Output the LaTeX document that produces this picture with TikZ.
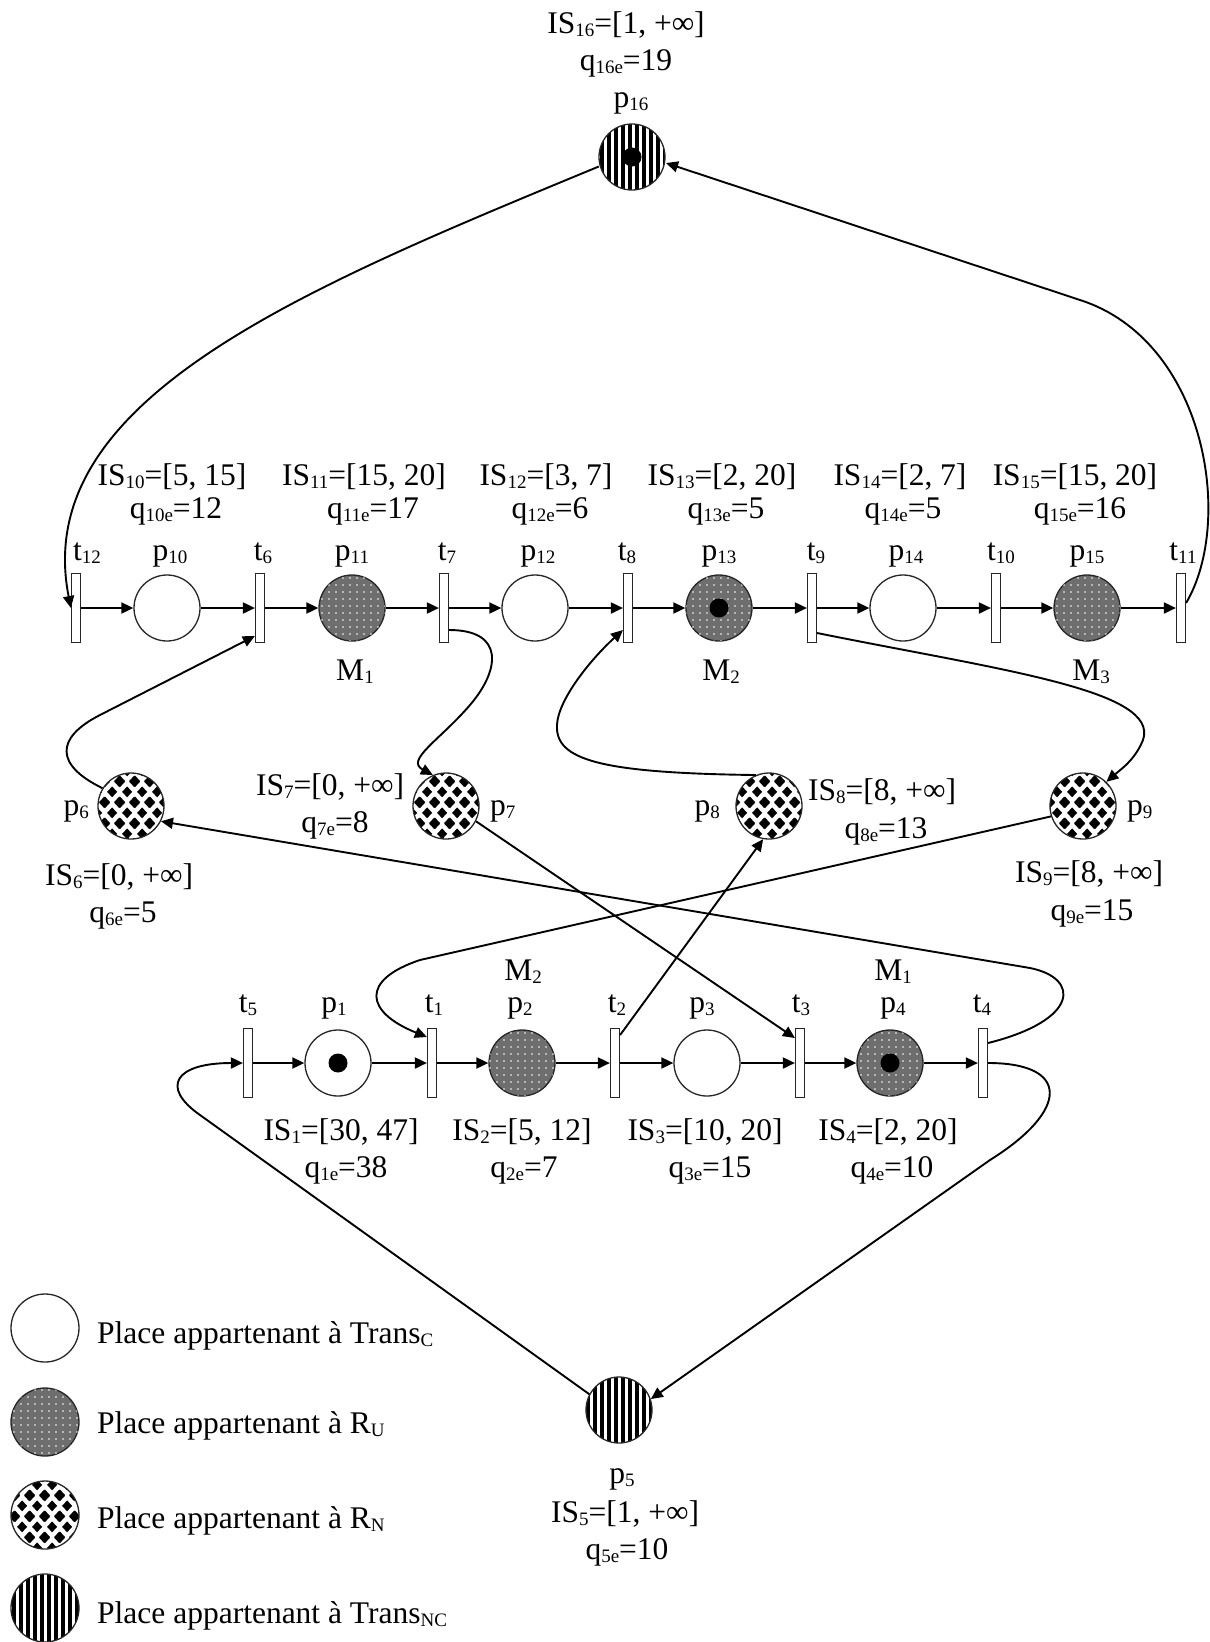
\documentclass[tikz,border=0pt]{standalone}
\usepackage{fontspec}
\setmainfont{Liberation Serif}
\usetikzlibrary{calc,arrows.meta,patterns,patterns.meta}

\newcommand{\sbs}[1]{\raisebox{-3pt}{\fontsize{19}{19}\selectfont #1}}
\newcommand{\dmd}[2]{%
  \pgfpathmoveto{\pgfpoint{#1-5.3pt}{#2}}%
  \pgfpathlineto{\pgfpoint{#1}{#2+5.6pt}}%
  \pgfpathlineto{\pgfpoint{#1+5.3pt}{#2}}%
  \pgfpathlineto{\pgfpoint{#1}{#2-5.6pt}}%
  \pgfpathclose}
\pgfdeclarepatternformonly{diamonds}{\pgfqpoint{0pt}{0pt}}{\pgfqpoint{15pt}{21pt}}{\pgfqpoint{15pt}{21pt}}{%
  \dmd{7.5pt}{10.5pt}\dmd{0pt}{0pt}\dmd{15pt}{0pt}\dmd{0pt}{21pt}\dmd{15pt}{21pt}%
  \pgfusepath{fill}}

\tikzset{
  lbl/.style={inner sep=0pt, font=\fontsize{31.5}{36}\selectfont},
  place/.style={circle, draw=black!85, line width=1.3pt, minimum size=66pt, inner sep=0pt},
  trc/.style={place, fill=white},
  ru/.style={place, fill=black!57, postaction={pattern={Dots[distance=7pt, radius=0.9pt]}, pattern color=white}},
  rn/.style={place, pattern=diamonds},
  tnc/.style={place, pattern={Lines[angle=90, distance=7pt, line width=3.2pt]}},
  trans/.style={rectangle, draw=black!85, fill=white, line width=1.2pt, minimum width=9pt, minimum height=69pt, inner sep=0pt},
  flow/.style={-{Triangle[length=12pt, width=11pt]}, line width=1.9pt},
  token/.style={circle, fill, minimum size=19pt, inner sep=0pt}
}

\begin{document}
\begin{tikzpicture}[x=1pt, y=-1pt]
	\useasboundingbox (0,0) rectangle (1210,1642);

	% upper row
	\node[trans] (t12) at (76,608) {};
	\node[trc] (p10) at (167,608) {};
	\node[trans] (t6) at (260,608) {};
	\node[ru] (p11) at (352,608) {};
	\node[trans] (t7) at (444,608) {};
	\node[trc] (p12) at (535,608) {};
	\node[trans] (t8) at (628,608) {};
	\node[ru] (p13) at (719,608) {};
	\node[trans] (t9) at (812,608) {};
	\node[trc] (p14) at (903,608) {};
	\node[trans] (t10) at (996,608) {};
	\node[ru] (p15) at (1087,608) {};
	\node[trans] (t11) at (1181,608) {};

	% middle places
	\node[rn] (p6) at (131,806) {};
	\node[rn] (p7) at (446,806) {};
	\node[rn] (p8) at (769,806) {};
	\node[rn] (p9) at (1083,806) {};

	% lower row
	\node[trans] (t5) at (248,1063) {};
	\node[trc] (p1) at (338,1063) {};
	\node[trans] (t1) at (432,1063) {};
	\node[ru] (p2) at (522,1063) {};
	\node[trans] (t2) at (615,1063) {};
	\node[trc] (p3) at (707,1063) {};
	\node[trans] (t3) at (800,1063) {};
	\node[ru] (p4) at (890,1063) {};
	\node[trans] (t4) at (983,1063) {};

	\node[tnc] (p16) at (632,157) {};
	\node[tnc] (p5) at (619,1410) {};

	% tokens
	\node[token] (k16) at (p16) {};
	\node[token] (k13) at (p13) {};
	\node[token] (k1) at (p1) {};
	\node[token] (k4) at (p4) {};

	% straight arcs
	\draw[flow] (t12) -- (p10);
	\draw[flow] (p10) -- (t6);
	\draw[flow] (t6) -- (p11);
	\draw[flow] (p11) -- (t7);
	\draw[flow] (t7) -- (p12);
	\draw[flow] (p12) -- (t8);
	\draw[flow] (t8) -- (p13);
	\draw[flow] (p13) -- (t9);
	\draw[flow] (t9) -- (p14);
	\draw[flow] (p14) -- (t10);
	\draw[flow] (t10) -- (p15);
	\draw[flow] (p15) -- (t11);
	\draw[flow] (t5) -- (p1);
	\draw[flow] (p1) -- (t1);
	\draw[flow] (t1) -- (p2);
	\draw[flow] (p2) -- (t2);
	\draw[flow] (t2) -- (p3);
	\draw[flow] (p3) -- (t3);
	\draw[flow] (t3) -- (p4);
	\draw[flow] (p4) -- (t4);

	% curved arcs
	\draw[flow] (p16.196) .. controls (300,290) and (30,400) .. (t12.west);
	\draw[flow] ($(t11.east)+(0,-5)$) .. controls (1235,520) and (1205,340) .. (1080,300) -- (p16.350);
	\draw[flow] ($(t7.east)+(0,22)$) .. controls (505,630) and (500,670) .. (470,705)
		.. controls (440,740) and (405,760) .. (p7.113);
	\draw[flow] (p8.113) .. controls (600,773) and (555,760) .. (557,725)
		.. controls (558,700) and (590,660) .. ($(t8.west)+(0,22)$);
	\draw[flow] ($(t9.east)+(0,25)$) .. controls (1000,670) and (1160,690) .. (1143,740)
		.. controls (1135,760) and (1120,770) .. (p9.46);
	\draw[flow] (p6.148) .. controls (55,765) and (55,738) .. (100,715) -- ($(t6.west)+(0,28)$);
	\draw[flow] (p7.333) -- ($(t3.west)+(0,-25)$);
	\draw[flow] ($(t2.east)+(0,-28)$) -- (p8.260);
	\draw[flow] (p9.198) -- (420,960) .. controls (360,980) and (365,1012) .. ($(t1.west)+(0,-26)$);
	\draw[flow] ($(t4.east)+(0,-20)$) .. controls (1080,1020) and (1080,978) .. (1030,968) -- (p6.333);
	\draw[flow] (t4.east) .. controls (1070,1063) and (1070,1110) .. (990,1160) -- (p5.19);
	\draw[flow] (p5.152) -- (200,1115) .. controls (160,1087) and (175,1063) .. (t5.west);

	% labels of p16
	\node[lbl, anchor=base] (is16) at (626,33) {IS\sbs{16}=[1, +∞]};
	\node[lbl, anchor=base] (q16) at (626,70) {q\sbs{16e}=19};
	\node[lbl, anchor=base] (n16) at (631,107) {p\sbs{16}};

	% labels of the upper row
	\node[lbl, anchor=base] (is10) at (172,485) {IS\sbs{10}=[5, 15]};
	\node[lbl, anchor=base] (q10) at (176,518) {q\sbs{10e}=12};
	\node[lbl, anchor=base] (is11) at (364,485) {IS\sbs{11}=[15, 20]};
	\node[lbl, anchor=base] (q11) at (373,518) {q\sbs{11e}=17};
	\node[lbl, anchor=base] (is12) at (546,485) {IS\sbs{12}=[3, 7]};
	\node[lbl, anchor=base] (q12) at (550,518) {q\sbs{12e}=6};
	\node[lbl, anchor=base] (is13) at (722,485) {IS\sbs{13}=[2, 20]};
	\node[lbl, anchor=base] (q13) at (726,518) {q\sbs{13e}=5};
	\node[lbl, anchor=base] (is14) at (900,485) {IS\sbs{14}=[2, 7]};
	\node[lbl, anchor=base] (q14) at (903,518) {q\sbs{14e}=5};
	\node[lbl, anchor=base] (is15) at (1075,485) {IS\sbs{15}=[15, 20]};
	\node[lbl, anchor=base] (q15) at (1080,518) {q\sbs{15e}=16};

	\node[lbl, anchor=base] (nt12) at (87,560) {t\sbs{12}};
	\node[lbl, anchor=base] (n10) at (170,560) {p\sbs{10}};
	\node[lbl, anchor=base] (nt6) at (263,560) {t\sbs{6}};
	\node[lbl, anchor=base] (n11) at (352,560) {p\sbs{11}};
	\node[lbl, anchor=base] (nt7) at (447,560) {t\sbs{7}};
	\node[lbl, anchor=base] (n12) at (538,560) {p\sbs{12}};
	\node[lbl, anchor=base] (nt8) at (627,560) {t\sbs{8}};
	\node[lbl, anchor=base] (n13) at (719,560) {p\sbs{13}};
	\node[lbl, anchor=base] (nt9) at (816,560) {t\sbs{9}};
	\node[lbl, anchor=base] (n14) at (906,560) {p\sbs{14}};
	\node[lbl, anchor=base] (nt10) at (1001,560) {t\sbs{10}};
	\node[lbl, anchor=base] (n15) at (1087,560) {p\sbs{15}};
	\node[lbl, anchor=base] (nt11) at (1183,560) {t\sbs{11}};

	\node[lbl, anchor=base] (m1a) at (355,680) {M\sbs{1}};
	\node[lbl, anchor=base] (m2a) at (721,680) {M\sbs{2}};
	\node[lbl, anchor=base] (m3a) at (1091,680) {M\sbs{3}};

	% labels of the middle places
	\node[lbl, anchor=base east] (n6) at (89,815) {p\sbs{6}};
	\node[lbl, anchor=base] (is6) at (119,885) {IS\sbs{6}=[0, +∞]};
	\node[lbl, anchor=base] (q6) at (123,922) {q\sbs{6e}=5};
	\node[lbl, anchor=base] (is7) at (330,795) {IS\sbs{7}=[0, +∞]};
	\node[lbl, anchor=base] (q7) at (335,832) {q\sbs{7e}=8};
	\node[lbl, anchor=base west] (n7) at (490,815) {p\sbs{7}};
	\node[lbl, anchor=base east] (n8) at (720,815) {p\sbs{8}};
	\node[lbl, anchor=base] (is8) at (882,800) {IS\sbs{8}=[8, +∞]};
	\node[lbl, anchor=base] (q8) at (886,838) {q\sbs{8e}=13};
	\node[lbl, anchor=base west] (n9) at (1127,815) {p\sbs{9}};
	\node[lbl, anchor=base] (is9) at (1089,882) {IS\sbs{9}=[8, +∞]};
	\node[lbl, anchor=base] (q9) at (1092,920) {q\sbs{9e}=15};

	% labels of the lower row
	\node[lbl, anchor=base] (m2b) at (523,980) {M\sbs{2}};
	\node[lbl, anchor=base] (m1b) at (893,980) {M\sbs{1}};
	\node[lbl, anchor=base] (nt5) at (248,1012) {t\sbs{5}};
	\node[lbl, anchor=base] (n1) at (334,1012) {p\sbs{1}};
	\node[lbl, anchor=base] (nt1) at (434,1012) {t\sbs{1}};
	\node[lbl, anchor=base] (n2) at (520,1012) {p\sbs{2}};
	\node[lbl, anchor=base] (nt2) at (617,1012) {t\sbs{2}};
	\node[lbl, anchor=base] (n3) at (702,1012) {p\sbs{3}};
	\node[lbl, anchor=base] (nt3) at (801,1012) {t\sbs{3}};
	\node[lbl, anchor=base] (n4) at (893,1012) {p\sbs{4}};
	\node[lbl, anchor=base] (nt4) at (982,1012) {t\sbs{4}};

	\node[lbl, anchor=base] (is1) at (341,1140) {IS\sbs{1}=[30, 47]};
	\node[lbl, anchor=base] (q1) at (346,1177) {q\sbs{1e}=38};
	\node[lbl, anchor=base] (is2) at (522,1140) {IS\sbs{2}=[5, 12]};
	\node[lbl, anchor=base] (q2) at (524,1177) {q\sbs{2e}=7};
	\node[lbl, anchor=base] (is3) at (705,1140) {IS\sbs{3}=[10, 20]};
	\node[lbl, anchor=base] (q3) at (710,1177) {q\sbs{3e}=15};
	\node[lbl, anchor=base] (is4) at (888,1140) {IS\sbs{4}=[2, 20]};
	\node[lbl, anchor=base] (q4) at (892,1177) {q\sbs{4e}=10};

	% labels of p5
	\node[lbl, anchor=base] (n5) at (622,1483) {p\sbs{5}};
	\node[lbl, anchor=base] (is5) at (625,1522) {IS\sbs{5}=[1, +∞]};
	\node[lbl, anchor=base] (q5) at (627,1559) {q\sbs{5e}=10};

	% legend
	\node[trc, minimum size=68pt] (lg1) at (45,1328) {};
	\node[ru, minimum size=68pt] (lg2) at (45,1422) {};
	\node[rn, minimum size=68pt] (lg3) at (45,1515) {};
	\node[tnc, minimum size=68pt] (lg4) at (45,1608) {};
	\node[lbl, anchor=base west] (lt1) at (97,1343) {Place appartenant à Trans\sbs{C}};
	\node[lbl, anchor=base west] (lt2) at (97,1433) {Place appartenant à R\sbs{U}};
	\node[lbl, anchor=base west] (lt3) at (97,1528) {Place appartenant à R\sbs{N}};
	\node[lbl, anchor=base west] (lt4) at (97,1623) {Place appartenant à Trans\sbs{NC}};
\end{tikzpicture}
\end{document}
